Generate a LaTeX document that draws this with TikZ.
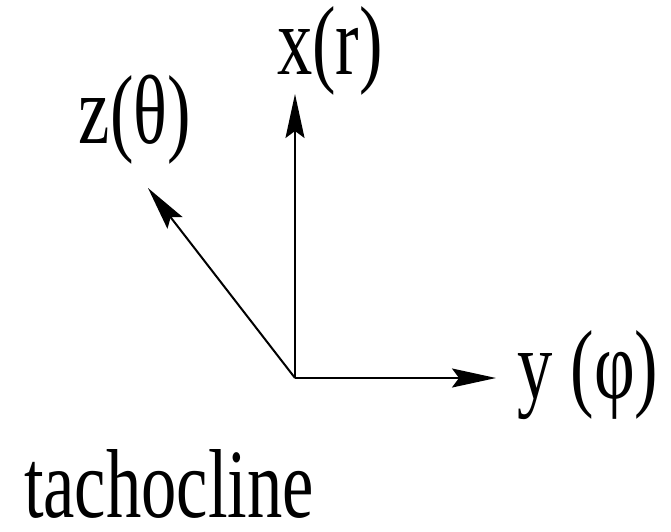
\documentclass[tikz,border=0pt]{standalone}
\usepackage{fontspec}
\setmainfont{Liberation Serif}
\usetikzlibrary{arrows.meta}

\begin{document}
\begin{tikzpicture}[
  x=1pt, y=-1pt,
  lbl/.style={inner sep=0pt, anchor=base, font=\fontsize{98}{110}\selectfont},
  arr/.style={-{Stealth[length=44pt,width=19pt,inset=7pt]}, line width=2pt},
]
\useasboundingbox (0,0) rectangle (671,531);

% ---- axes ----
\coordinate (O)  at (295,378);
\coordinate (xt) at (295,94);
\coordinate (yt) at (496,378);
\coordinate (zt) at (148,188);
\draw[arr] (O) -- (xt);
\draw[arr] (O) -- (yt);
\draw[arr] (O) -- (zt);

% ---- labels ----
\node[lbl] (xl) at (330,74)  {\scalebox{0.72}[1]{x(r)}};
\node[lbl] (zl) at (135,143) {\scalebox{0.72}[1]{z(θ)}};
\node[lbl] (yl) at (588,398) {\scalebox{0.72}[1]{y (φ)}};
\node[lbl] (tl) at (169,517) {\scalebox{0.72}[1]{tachocline}};
\end{tikzpicture}
\end{document}
